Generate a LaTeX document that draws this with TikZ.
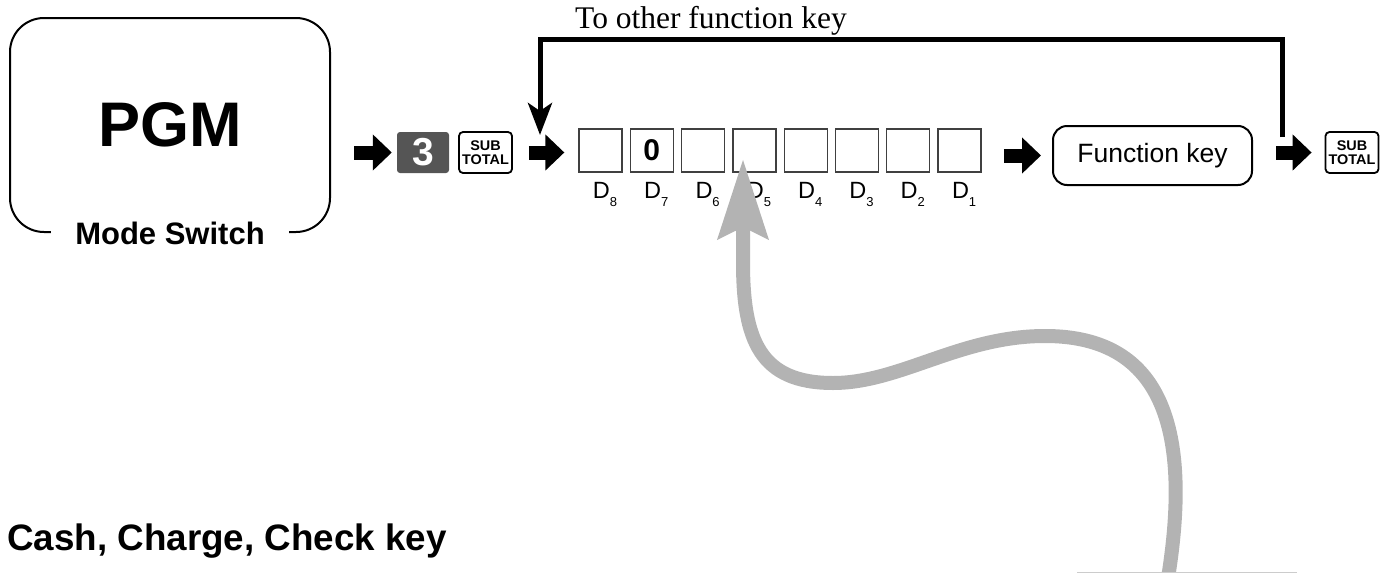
\documentclass[tikz,border=0pt]{standalone}
\usepackage{fontspec}
\setmainfont{Liberation Sans}
\newfontfamily\labelserif{Liberation Serif}
\usetikzlibrary{arrows.meta}
\definecolor{keygray}{HTML}{555555}
\definecolor{curvegray}{HTML}{B3B3B3}
% digit position label, D with a lowered index
\newcommand{\dlabel}[1]{D\raisebox{-8pt}{\fontsize{13}{13}\selectfont #1}}
\newcommand{\subtotalkey}{\scalebox{1.03}[1]{SUB}\\\scalebox{1.03}[1]{TOTAL}}

\begin{document}
\begin{tikzpicture}[x=1pt,y=-1pt,
    modebox/.style={draw, line width=2pt, rounded corners=34pt, minimum width=320pt, minimum height=214pt},
    keybox/.style={draw, line width=1.8pt, rounded corners=4pt, minimum width=53pt, minimum height=41pt,
      inner sep=0pt, align=center, font=\fontsize{14}{14}\selectfont\bfseries},
    numkey/.style={fill=keygray, rounded corners=3pt, minimum width=52pt, minimum height=41pt, inner sep=0pt,
      text=white, font=\fontsize{39}{39}\selectfont\bfseries},
    digitbox/.style={draw=black!75, line width=1.3pt, minimum size=43pt, inner sep=0pt},
    digitlabel/.style={anchor=base, inner sep=0pt, font=\fontsize{23.5}{24}\selectfont},
    funcbox/.style={draw, line width=2pt, rounded corners=14pt, minimum width=199pt, minimum height=59pt,
      font=\fontsize{26.5}{26.5}\selectfont},
    blockarrow/.style={line width=14pt, -{Triangle[length=19pt,width=35pt]}},
    loopline/.style={line width=5pt, -{Stealth[length=32pt,width=24pt,inset=8pt]}},
    curvearrow/.style={curvegray, line width=14pt, -{Stealth[length=79pt,width=49pt,inset=11pt]}}]

  \useasboundingbox (0,0) rectangle (1390,573);

  % mode switch
  \node[modebox] (mode) at (170,125) {};
  \node[font=\fontsize{63}{63}\selectfont\bfseries] (pgm) at (mode) {PGM};
  \node[fill=white, inner xsep=24pt, inner ysep=1pt, font=\fontsize{31}{31}\selectfont\bfseries]
    (modelabel) at (mode.south) {Mode Switch};

  % key sequence
  \node[numkey] (key3) at (423,152.5) {3};
  \node[keybox] (sub1) at (485.5,152.5) {\subtotalkey};

  \foreach \i in {1,...,8} {
    \node[digitbox] (d\i) at ({600.5+(8-\i)*51.3},150.5) {};
    \node[digitlabel] (l\i) at ({605+(8-\i)*51.3},198) {\dlabel{\i}};
  }
  \node[font=\fontsize{30}{30}\selectfont\bfseries] (zero) at (d7) {0};

  \node[funcbox] (func) at (1152.5,155.5) {Function key};
  \node[keybox] (sub2) at (1352,152.5) {\subtotalkey};

  \draw[blockarrow, shorten <=23pt, shorten >=5pt] (mode.east |- key3.west) -- (key3.west);
  \draw[blockarrow, shorten <=16pt, shorten >=14pt] (sub1.east) -- (sub1.east -| d8.west);
  \draw[blockarrow, shorten <=22pt, shorten >=11pt] (func.west -| d1.east) -- (func.west);
  \draw[blockarrow, shorten <=23pt, shorten >=13pt] (func.east |- sub2.west) -- (sub2.west);

  % return path to the next function key
  \coordinate (loopout) at (1282,137);
  \coordinate (loopin) at (540,135);
  \draw[loopline] (loopout) -- ++(0,-98) -| (loopin);
  \node[anchor=base, inner sep=0pt, font=\labelserif\fontsize{31.5}{31.5}\selectfont] (looptext) at (711,28)
    {To other function key};

  % key type
  \node[anchor=base west, inner sep=0pt, font=\fontsize{36.8}{36.8}\selectfont\bfseries] (cashlabel) at (7,550)
    {Cash, Charge, Check key};

  \coordinate (curvestart) at (1168,578);
  \coordinate (curvetip) at (743,159);
  \draw[curvearrow] (curvestart) .. controls (1195,410) and (1150,336) .. (1045,336)
    .. controls (960,336) and (900,383) .. (833,383)
    .. controls (760,383) and (743,340) .. (743,262) -- (curvetip);
  \draw[black!20, line width=1pt] (1077,572.5) -- (1297,572.5);
\end{tikzpicture}
\end{document}
